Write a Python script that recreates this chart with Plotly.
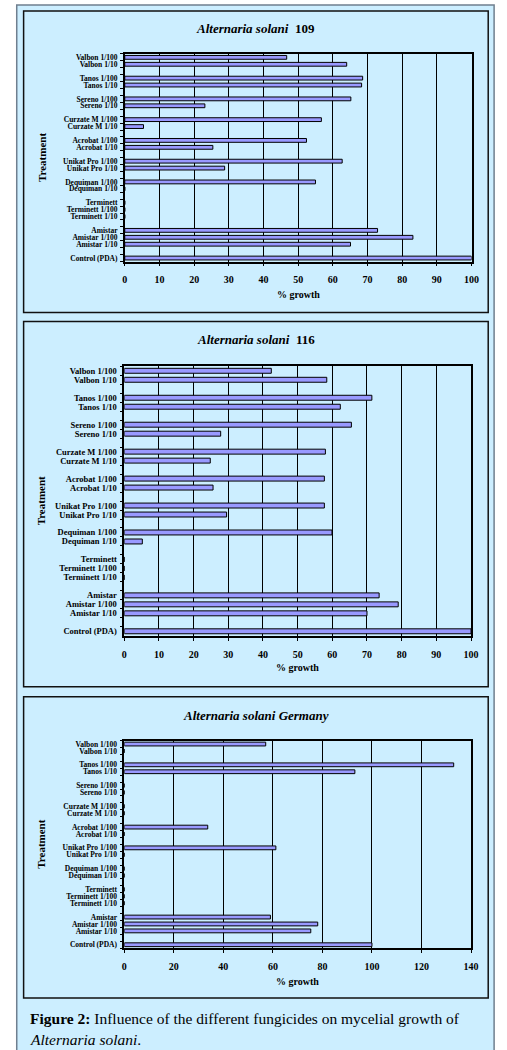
import plotly.graph_objects as go

# ---------------- data ----------------
treatments = [
    "Valbon 1/100", "Valbon 1/10", " ",
    "Tanos 1/100", "Tanos 1/10", "  ",
    "Sereno 1/100", "Sereno 1/10", "   ",
    "Curzate M 1/100", "Curzate M 1/10", "    ",
    "Acrobat 1/100", "Acrobat 1/10", "     ",
    "Unikat Pro 1/100", "Unikat Pro 1/10", "      ",
    "Dequiman 1/100", "Dequiman 1/10", "       ",
    "Terminett", "Terminett 1/100", "Terminett 1/10", "        ",
    "Amistar", "Amistar 1/100", "Amistar 1/10", "         ",
    "Control (PDA)",
]

growth_109 = [
    46.7, 64.0, None,
    68.6, 68.3, None,
    65.2, 23.1, None,
    56.7, 5.4, None,
    52.4, 25.4, None,
    62.7, 28.8, None,
    55.0, 0, None,
    0, 0, 0, None,
    72.9, 83.1, 65.1, None,
    100,
]

growth_116 = [
    42.4, 58.4, None,
    71.4, 62.3, None,
    65.5, 27.8, None,
    58.0, 24.8, None,
    57.7, 25.6, None,
    57.7, 29.5, None,
    59.9, 5.2, None,
    0, 0, 0, None,
    73.5, 79.0, 70.0, None,
    100,
]

growth_germany = [
    57.1, 0, None,
    133.0, 93.1, None,
    0, 0, None,
    0, 0, None,
    33.7, 0, None,
    61.2, 0, None,
    0, 0, None,
    0, 0, 0, None,
    59.0, 78.1, 75.3, None,
    100,
]

panel_titles = [
    "<b><i>Alternaria solani</i>  109</b>",
    "<b><i>Alternaria solani</i>  116</b>",
    "<b><i>Alternaria solani Germany</i></b>",
]
x_ranges = [[0, 100], [0, 100], [0, 140]]
x_dticks = [10, 10, 20]
x_title = "% growth"
y_title = "Treatment"
caption_1 = "<b>Figure 2:</b> Influence of the different fungicides on mycelial growth of"
caption_2 = "<i>Alternaria solani</i>."

# ---------------- layout geometry (pixels) ----------------
W, H = 507, 1050
BG = "#CCEEFF"
BAR = "#9999FF"
SERIF = "Liberation Serif"


def fx(x):
    return x / W


def fy(y):
    return 1 - y / H


panels = [  # box x0, y0, x1, y1
    (22, 10, 495, 312),
    (22, 321, 495, 687),
    (22, 697, 495, 999),
]
plots = [  # plot area x0, y0, x1, y1
    (125, 53, 478, 261),
    (124.5, 366, 477.5, 636),
    (124.5, 741, 477.5, 949),
]
title_y = [28, 339, 716]
xtitle_y = [294, 668, 982]
ylabel_size = [7.5, 8.5, 7.5]

fig = go.Figure()
series = [growth_109, growth_116, growth_germany]
shapes = []
annotations = []

# outer frame
shapes.append(dict(type="rect", xref="paper", yref="paper",
                   x0=fx(15), x1=fx(501), y0=fy(1060), y1=fy(4),
                   line=dict(color="#6F7F8F", width=1.5), fillcolor=BG, layer="below"))

for i, vals in enumerate(series):
    n = "" if i == 0 else str(i + 1)
    fig.add_trace(go.Bar(
        x=vals, y=treatments, orientation="h",
        xaxis="x" + n, yaxis="y" + n,
        marker=dict(color=BAR, line=dict(color="black", width=1)),
        width=0.55, showlegend=False,
    ))
    px0, py0, px1, py1 = plots[i]
    fig.update_layout(**{
        "xaxis" + n: dict(
            domain=[fx(px0), fx(px1)], range=x_ranges[i], dtick=x_dticks[i],
            anchor="y" + n, showgrid=True, gridcolor="black", gridwidth=1,
            showline=True, linecolor="black", linewidth=1.5, mirror=True,
            ticks="outside", ticklen=3, tickcolor="black",
            ticklabelstandoff=5, zeroline=False,
            tickfont=dict(family=SERIF, size=10, color="black", weight="bold"),
        ),
        "yaxis" + n: dict(
            domain=[fy(py1), fy(py0)], anchor="x" + n,
            type="category", categoryorder="array",
            categoryarray=treatments, autorange="reversed",
            tickmode="array", tickvals=treatments, ticktext=treatments,
            showline=True, linecolor="black", linewidth=1.5, mirror=True,
            ticks="outside", ticklen=3, tickcolor="black", tickson="boundaries",
            ticklabelstandoff=4, showgrid=False,
            tickfont=dict(family=SERIF, size=ylabel_size[i], color="black",
                          weight="bold"),
        ),
    })
    bx0, by0, bx1, by1 = panels[i]
    shapes.append(dict(type="rect", xref="paper", yref="paper",
                       x0=fx(bx0), x1=fx(bx1), y0=fy(by1), y1=fy(by0),
                       line=dict(color="#111111", width=1.5), fillcolor=BG,
                       layer="below"))
    annotations.append(dict(xref="paper", yref="paper", x=fx((bx0 + bx1) / 2),
                            y=fy(title_y[i]), text=panel_titles[i], showarrow=False,
                            xanchor="center", yanchor="middle",
                            font=dict(family=SERIF, size=13, color="black")))
    annotations.append(dict(xref="paper", yref="paper", x=fx((px0 + px1) / 2),
                            y=fy(xtitle_y[i]), text="<b>" + x_title + "</b>",
                            showarrow=False, xanchor="center", yanchor="middle",
                            font=dict(family=SERIF, size=10, color="black")))
    annotations.append(dict(xref="paper", yref="paper", x=fx(40),
                            y=fy((py0 + py1) / 2), text="<b>" + y_title + "</b>",
                            textangle=-90, showarrow=False,
                            xanchor="center", yanchor="middle",
                            font=dict(family=SERIF, size=11, color="black")))

annotations.append(dict(xref="paper", yref="paper", x=fx(26), y=fy(1019),
                        text=caption_1, showarrow=False, xanchor="left",
                        yanchor="middle",
                        font=dict(family=SERIF, size=15.5, color="black")))
annotations.append(dict(xref="paper", yref="paper", x=fx(26), y=fy(1040),
                        text=caption_2, showarrow=False, xanchor="left",
                        yanchor="middle",
                        font=dict(family=SERIF, size=15.5, color="black")))

fig.update_layout(
    width=W, height=H, margin=dict(l=0, r=0, t=0, b=0),
    paper_bgcolor="white", plot_bgcolor=BG,
    shapes=shapes, annotations=annotations, bargap=0.45,
)

fig.write_html("out.html")
